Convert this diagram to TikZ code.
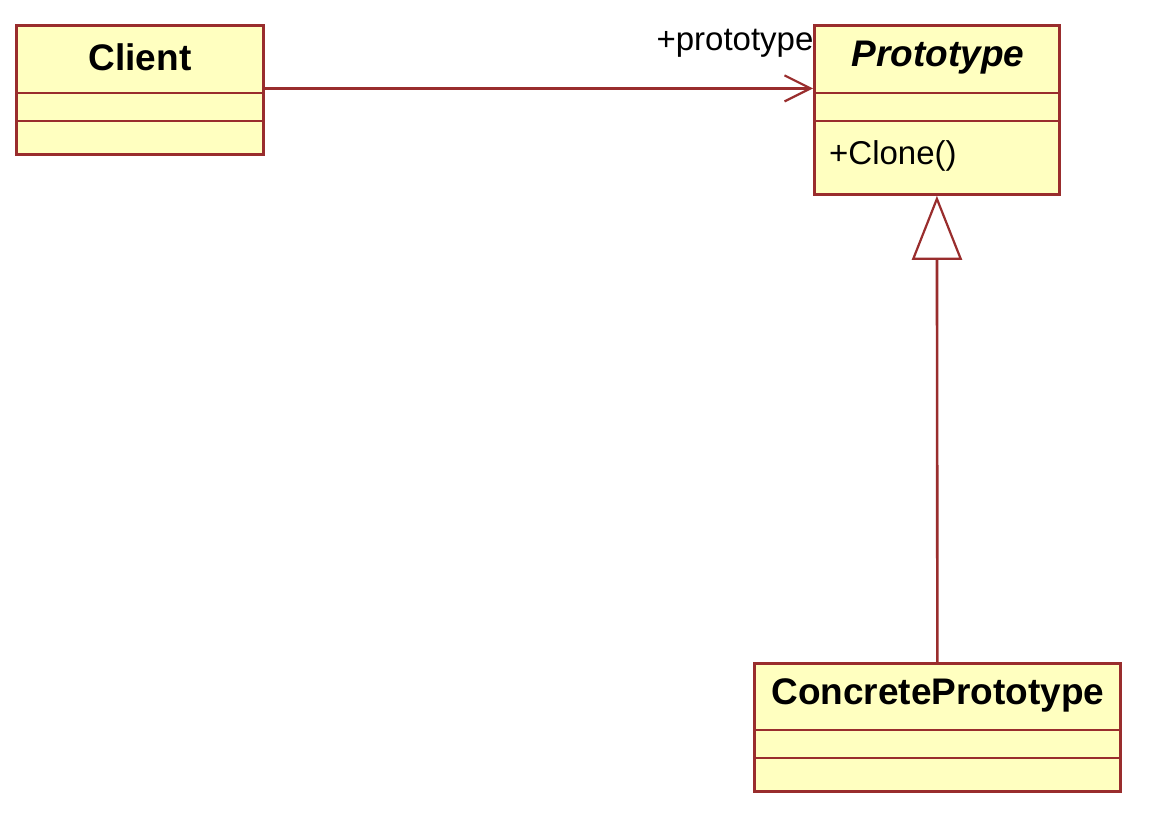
\documentclass[tikz,border=0pt]{standalone}
\usepackage{fontspec}
\setmainfont{Liberation Sans}
\usetikzlibrary{arrows.meta}
\definecolor{umlline}{RGB}{153,45,45}
\definecolor{umlfill}{RGB}{255,255,192}
\begin{document}
\begin{tikzpicture}[x=1pt,y=-1pt,
  classbox/.style={draw=umlline,fill=umlfill,line width=2.8pt,inner sep=0pt,
    minimum width=#1,anchor=north west},
  divider/.style={draw=umlline,line width=2.8pt},
  title/.style={font=\fontsize{37}{42}\selectfont\bfseries,text=black,inner sep=0pt},
  member/.style={font=\fontsize{33}{38}\selectfont,text=black,inner sep=0pt},
  assoc/.style={draw=umlline,line width=2.6pt,-{Straight Barb[length=26pt,width=26pt,line width=2.2pt]}},
  generalize/.style={draw=umlline,line width=2.6pt,-{Triangle[open,length=64pt,width=50pt,fill=white,line width=2.2pt]}}
]
\useasboundingbox[fill=white] (0,0) rectangle (1170,832);

% Client class
\node[classbox=247pt,minimum height=129pt] (client) at (15,24) {};
\draw[divider] (15,93) -- (262,93);
\draw[divider] (15,121) -- (262,121);
\node[title] (clientname) at (140,57) {Client};

% Prototype class (abstract)
\node[classbox=245pt,minimum height=169pt] (proto) at (813,24) {};
\draw[divider] (813,93) -- (1058,93);
\draw[divider] (813,121) -- (1058,121);
\node[title,font=\fontsize{37}{42}\selectfont\bfseries\itshape] (protoname) at (938,58) {Prototype};
\node[member,anchor=west] (clone) at (829,156) {+Clone()};

% ConcretePrototype class
\node[classbox=366pt,minimum height=128pt] (concrete) at (753,662) {};
\draw[divider] (753,730) -- (1119,730);
\draw[divider] (753,758) -- (1119,758);
\node[title] (concretename) at (938,695) {ConcretePrototype};

% Association Client -> Prototype
\coordinate (assocstart) at ([yshift=1.5pt]client.east);
\draw[assoc] (assocstart) -- (proto.west |- assocstart);
\node[member] (rolename) at (735,43) {+prototype};

% Generalization ConcretePrototype -> Prototype
\draw[generalize] (concrete.north) -- (proto.south);
\end{tikzpicture}
\end{document}
